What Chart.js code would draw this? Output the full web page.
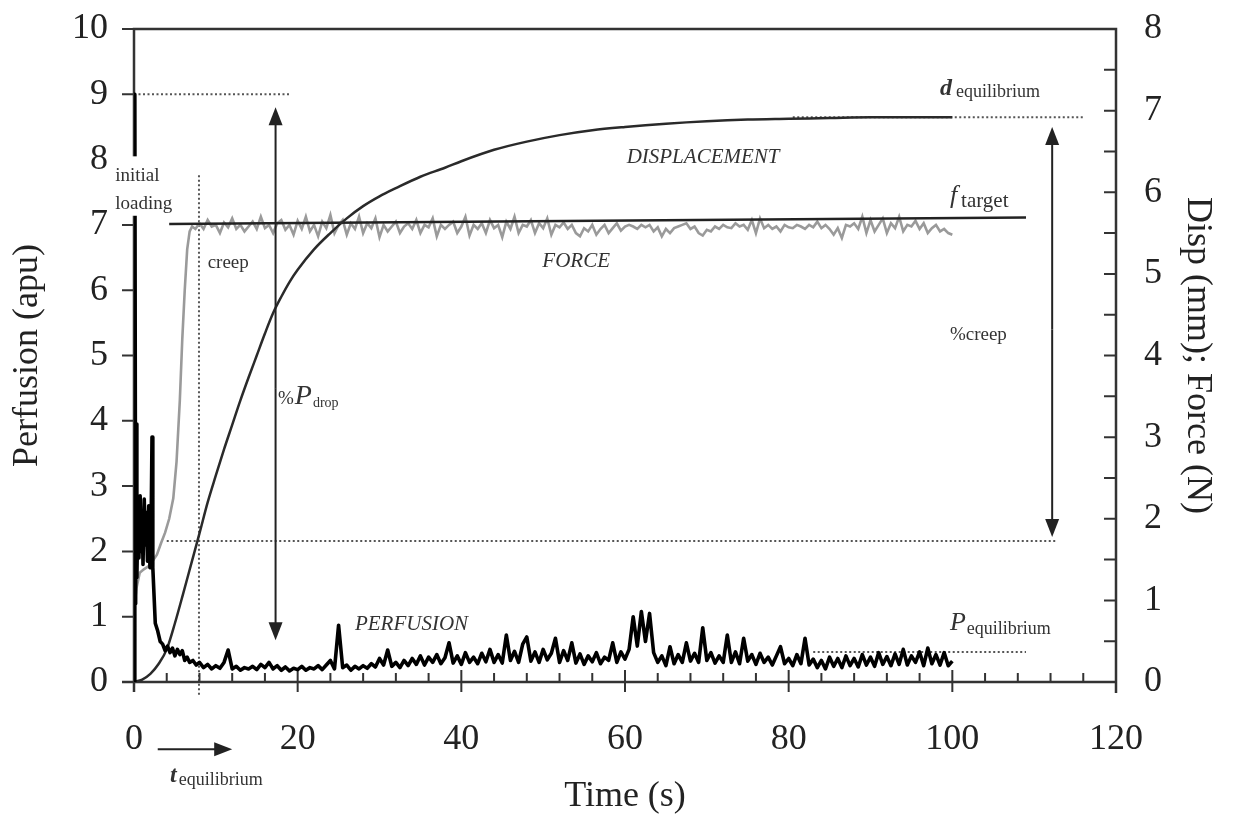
<!DOCTYPE html>
<html>
<head>
<meta charset="utf-8">
<script src="https://cdn.jsdelivr.net/npm/chart.js@4.4.1/dist/chart.umd.min.js"></script>
<style>
html, body { margin: 0; padding: 0; background: #fff; }
#wrap { width: 1234px; height: 821px; }
</style>
</head>
<body>
<div id="wrap"><canvas id="grafico" width="1234" height="821"></canvas></div>
<script>
// Perfusione: fase iniziale (s, apu)
const perfEarlyT = [0, 0.1, 0.2, 0.25, 0.35, 0.5, 0.6, 0.75, 0.9, 1.0, 1.1, 1.25, 1.4, 1.5, 1.65, 1.8, 1.95, 2.1, 2.2, 2.3,
    2.6, 2.9, 3.2, 3.5, 3.8, 4.1, 4.4, 4.7, 5.0, 5.3, 5.6, 5.9, 6.2, 6.5, 6.8, 7.2, 7.6];
const perfEarlyV = [0, 9.0, 1.2, 3.95, 1.6, 2.7, 1.9, 2.85, 2.0, 2.6, 1.8, 2.8, 2.1, 2.6, 1.85, 2.7, 1.75, 2.5, 3.75, 1.75,
    0.9, 0.78, 0.62, 0.58, 0.48, 0.55, 0.45, 0.52, 0.4, 0.5, 0.42, 0.48, 0.33, 0.38, 0.3, 0.33, 0.26];

// Forza: fase di carico (s, N)
const forceEarlyT = [0, 0.3, 0.7, 1.2, 1.8, 2.4, 2.8, 3.3, 3.8, 4.3, 4.8, 5.2, 5.6, 5.9, 6.2, 6.5, 6.8, 7.1, 7.5];
const forceEarlyV = [0.85, 1.15, 1.34, 1.38, 1.42, 1.5, 1.56, 1.7, 1.83, 2.0, 2.25, 2.7, 3.45, 4.2, 4.8, 5.3, 5.52, 5.58, 5.55];

// Griglia temporale comune dopo t = 8 s
const gridT = [
    8, 8.5, 9, 9.5, 10, 10.5, 11, 11.5, 12, 12.5,
    13, 13.5, 14, 14.5, 15, 15.5, 16, 16.5, 17, 17.5,
    18, 18.5, 19, 19.5, 20, 20.5, 21, 21.5, 22, 22.5,
    23, 23.5, 24, 24.5, 25, 25.5, 26, 26.5, 27, 27.5,
    28, 28.5, 29, 29.5, 30, 30.5, 31, 31.5, 32, 32.5,
    33, 33.5, 34, 34.5, 35, 35.5, 36, 36.5, 37, 37.5,
    38, 38.5, 39, 39.5, 40, 40.5, 41, 41.5, 42, 42.5,
    43, 43.5, 44, 44.5, 45, 45.5, 46, 46.5, 47, 47.5,
    48, 48.5, 49, 49.5, 50, 50.5, 51, 51.5, 52, 52.5,
    53, 53.5, 54, 54.5, 55, 55.5, 56, 56.5, 57, 57.5,
    58, 58.5, 59, 59.5, 60, 60.5, 61, 61.5, 62, 62.5,
    63, 63.5, 64, 64.5, 65, 65.5, 66, 66.5, 67, 67.5,
    68, 68.5, 69, 69.5, 70, 70.5, 71, 71.5, 72, 72.5,
    73, 73.5, 74, 74.5, 75, 75.5, 76, 76.5, 77, 77.5,
    78, 78.5, 79, 79.5, 80, 80.5, 81, 81.5, 82, 82.5,
    83, 83.5, 84, 84.5, 85, 85.5, 86, 86.5, 87, 87.5,
    88, 88.5, 89, 89.5, 90, 90.5, 91, 91.5, 92, 92.5,
    93, 93.5, 94, 94.5, 95, 95.5, 96, 96.5, 97, 97.5,
    98, 98.5, 99, 99.5, 100];

const perfV = [
    0.3, 0.22, 0.27, 0.2, 0.25, 0.21, 0.3, 0.49, 0.2, 0.24,
    0.18, 0.22, 0.2, 0.24, 0.19, 0.27, 0.22, 0.3, 0.2, 0.25,
    0.18, 0.23, 0.17, 0.21, 0.19, 0.24, 0.18, 0.22, 0.2, 0.25,
    0.19, 0.26, 0.33, 0.2, 0.87, 0.22, 0.26, 0.18, 0.24, 0.2,
    0.25, 0.21, 0.28, 0.23, 0.36, 0.26, 0.49, 0.24, 0.3, 0.22,
    0.33, 0.25, 0.36, 0.27, 0.4, 0.26, 0.38, 0.3, 0.42, 0.28,
    0.37, 0.6, 0.29, 0.4, 0.27, 0.45, 0.3, 0.38, 0.28, 0.44,
    0.31, 0.5, 0.3, 0.42, 0.29, 0.72, 0.33, 0.47, 0.3, 0.58,
    0.69, 0.32, 0.46, 0.3, 0.5, 0.34, 0.44, 0.67, 0.3, 0.48,
    0.33, 0.6, 0.29, 0.43, 0.27, 0.4, 0.31, 0.45, 0.28, 0.38,
    0.33, 0.6, 0.3, 0.46, 0.35, 0.5, 1.0, 0.55, 1.08, 0.62,
    1.05, 0.45, 0.3, 0.4, 0.25, 0.54, 0.28, 0.42, 0.3, 0.6,
    0.32, 0.44, 0.3, 0.83, 0.33, 0.45, 0.29, 0.4, 0.3, 0.72,
    0.3, 0.46, 0.28, 0.67, 0.32, 0.42, 0.27, 0.44, 0.3, 0.38,
    0.26, 0.4, 0.54, 0.28, 0.36, 0.25, 0.42, 0.28, 0.67, 0.26,
    0.35, 0.22, 0.33, 0.2, 0.38, 0.24, 0.36, 0.22, 0.4, 0.25,
    0.36, 0.23, 0.42, 0.26, 0.38, 0.24, 0.45, 0.27, 0.39, 0.25,
    0.43, 0.27, 0.5, 0.26, 0.4, 0.3, 0.46, 0.25, 0.52, 0.28,
    0.42, 0.26, 0.45, 0.25, 0.32];

const forceV = [
    5.62, 5.55, 5.66, 5.58, 5.6, 5.5, 5.63, 5.57, 5.68, 5.55,
    5.6, 5.52, 5.58, 5.64, 5.55, 5.7, 5.56, 5.6, 5.5, 5.62,
    5.66, 5.54, 5.6, 5.48, 5.65, 5.55, 5.7, 5.52, 5.6, 5.46,
    5.64, 5.56, 5.72, 5.5, 5.6, 5.66, 5.48, 5.62, 5.55, 5.7,
    5.5, 5.62, 5.56, 5.68, 5.45, 5.6, 5.52, 5.58, 5.64, 5.5,
    5.58, 5.62, 5.55, 5.66, 5.5, 5.6, 5.57, 5.68, 5.46, 5.6,
    5.55, 5.6, 5.64, 5.5, 5.58, 5.7, 5.47, 5.6, 5.55, 5.62,
    5.5, 5.66, 5.56, 5.6, 5.45, 5.64, 5.55, 5.7, 5.5, 5.6,
    5.58, 5.66, 5.5, 5.62, 5.56, 5.68, 5.48, 5.6, 5.57, 5.63,
    5.55, 5.6, 5.5, 5.46, 5.56, 5.52, 5.6, 5.48, 5.55, 5.6,
    5.5, 5.56, 5.62, 5.53, 5.58, 5.6, 5.58, 5.55, 5.6, 5.57,
    5.6, 5.52, 5.57, 5.46, 5.55, 5.5, 5.56, 5.58, 5.6, 5.62,
    5.55, 5.58, 5.5, 5.47, 5.54, 5.52, 5.58, 5.55, 5.6, 5.57,
    5.56, 5.62, 5.58, 5.6, 5.54, 5.66, 5.5, 5.68, 5.56, 5.6,
    5.55, 5.58, 5.52, 5.6, 5.57, 5.56, 5.6, 5.58, 5.55, 5.6,
    5.57, 5.64, 5.56, 5.6, 5.55, 5.48, 5.56, 5.44, 5.6, 5.58,
    5.62, 5.55, 5.7, 5.5, 5.66, 5.52, 5.6, 5.68, 5.5, 5.62,
    5.56, 5.7, 5.52, 5.6, 5.58, 5.65, 5.55, 5.62, 5.5, 5.56,
    5.6, 5.52, 5.55, 5.5, 5.48];

// Spostamento (s, mm)
const dispT = [0, 1, 2, 3, 4, 5, 6, 7, 8, 9, 10, 11, 12, 13, 14, 15, 16, 17, 18, 19, 20, 22, 24, 26, 28, 30,
    32, 35, 38, 40, 44, 48, 52, 56, 60, 65, 70, 75, 80, 85, 90, 95, 100];
const dispV = [0, 0.03, 0.1, 0.22, 0.4, 0.72, 1.08, 1.45, 1.82, 2.2, 2.53, 2.85, 3.15, 3.45, 3.73, 4.0, 4.27, 4.52,
    4.72, 4.9, 5.05, 5.3, 5.5, 5.68, 5.83, 5.95, 6.05, 6.19, 6.3, 6.38, 6.52, 6.62, 6.7, 6.76, 6.8, 6.84, 6.87,
    6.89, 6.9, 6.91, 6.92, 6.92, 6.92];

// Forza obiettivo (s, N)
const targetT = [4.3, 109];
const targetV = [5.61, 5.69];

const SERIF = "'Liberation Serif', 'Times New Roman', serif";

function punti(tt, vv) {
    return tt.map((t, i) => ({ x: t, y: vv[i] }));
}

// Linee tratteggiate (in unita' dell'asse sinistro)
const tratteggiH = [[0, 19.1, 9.0], [4.0, 112.6, 2.16], [80.5, 116.2, 8.65], [83, 109, 0.46]];
const tratteggiV = [[7.94, 7.76, -0.2]];

function freccia(ctx, x0, y0, x1, y1) {
    const a = Math.atan2(y1 - y0, x1 - x0);
    const L = 18, W = 7;
    ctx.beginPath();
    ctx.moveTo(x0, y0);
    ctx.lineTo(x1 - L * 0.8 * Math.cos(a), y1 - L * 0.8 * Math.sin(a));
    ctx.stroke();
    ctx.beginPath();
    ctx.moveTo(x1, y1);
    ctx.lineTo(x1 - L * Math.cos(a) + W * Math.sin(a), y1 - L * Math.sin(a) - W * Math.cos(a));
    ctx.lineTo(x1 - L * Math.cos(a) - W * Math.sin(a), y1 - L * Math.sin(a) + W * Math.cos(a));
    ctx.closePath();
    ctx.fill();
}

function scrivi(ctx, x, y, parti) {
    let cx = x;
    parti.forEach(p => {
        ctx.font = p[1];
        ctx.fillText(p[0], cx, y + (p[2] || 0));
        cx += ctx.measureText(p[0]).width + (p[3] || 0);
    });
}

const assi = {
    id: 'assi',
    beforeDatasetsDraw(chart) {
        const { ctx, chartArea: a, scales: { x, y, y1 } } = chart;
        ctx.save();
        // tratteggi
        ctx.strokeStyle = '#555';
        ctx.lineWidth = 2;
        ctx.setLineDash([2, 2.5]);
        tratteggiH.forEach(d => {
            ctx.beginPath();
            ctx.moveTo(x.getPixelForValue(d[0]), y.getPixelForValue(d[2]));
            ctx.lineTo(x.getPixelForValue(d[1]), y.getPixelForValue(d[2]));
            ctx.stroke();
        });
        tratteggiV.forEach(d => {
            ctx.beginPath();
            ctx.moveTo(x.getPixelForValue(d[0]), y.getPixelForValue(d[1]));
            ctx.lineTo(x.getPixelForValue(d[0]), y.getPixelForValue(d[2]));
            ctx.stroke();
        });
        ctx.setLineDash([]);

        // cornice
        ctx.strokeStyle = '#333';
        ctx.lineWidth = 2.5;
        ctx.beginPath();
        ctx.moveTo(a.left, a.bottom + 10);
        ctx.lineTo(a.left, a.top);
        ctx.lineTo(a.right, a.top);
        ctx.lineTo(a.right, a.bottom + 11);
        ctx.moveTo(a.left - 12, a.bottom);
        ctx.lineTo(a.right, a.bottom);
        ctx.stroke();

        ctx.lineWidth = 2;
        ctx.beginPath();
        for (let v = 0; v <= 10; v++) {
            const p = y.getPixelForValue(v);
            ctx.moveTo(a.left - 12, p);
            ctx.lineTo(a.left, p);
        }
        for (let v = 0; v <= 8; v += 0.5) {
            const p = y1.getPixelForValue(v);
            ctx.moveTo(a.right - 12, p);
            ctx.lineTo(a.right, p);
        }
        for (let t = 0; t <= 120; t += 4) {
            const p = x.getPixelForValue(t);
            if (t % 20 === 0) {
                ctx.moveTo(p, a.bottom - 12);
                ctx.lineTo(p, a.bottom + 10);
            } else {
                ctx.moveTo(p, a.bottom - 9);
                ctx.lineTo(p, a.bottom);
            }
        }
        ctx.stroke();
        ctx.restore();
    },
    afterDraw(chart) {
        const { ctx, scales: { x, y } } = chart;
        const X = v => x.getPixelForValue(v), Y = v => y.getPixelForValue(v);
        ctx.save();
        ctx.strokeStyle = '#222';
        ctx.fillStyle = '#222';
        ctx.lineWidth = 2;
        // frecce
        freccia(ctx, X(17.3), Y(4.5), X(17.3), Y(8.8));
        freccia(ctx, X(17.3), Y(4.5), X(17.3), Y(0.64));
        freccia(ctx, X(112.2), Y(5.4), X(112.2), Y(8.5));
        freccia(ctx, X(112.2), Y(5.4), X(112.2), Y(2.22));
        freccia(ctx, X(2.9), Y(-1.03), X(12.0), Y(-1.03));

        // etichetta "initial loading" su fondo bianco
        ctx.fillStyle = '#fff';
        ctx.fillRect(X(-2.7), Y(8.05), X(5.4) - X(-2.7), Y(7.14) - Y(8.05));

        ctx.fillStyle = '#333';
        ctx.textBaseline = 'alphabetic';
        ctx.textAlign = 'left';
        const small = '19px ' + SERIF;
        scrivi(ctx, X(-2.3), Y(7.67), [['initial', small]]);
        scrivi(ctx, X(-2.3), Y(7.24), [['loading', small]]);
        scrivi(ctx, X(9.0), Y(6.34), [['creep', small]]);
        scrivi(ctx, X(17.6), Y(4.26), [['%', '19px ' + SERIF, 0, 1], ['P', 'italic 28px ' + SERIF, 0, 1], ['drop', '14px ' + SERIF, 3]]);
        scrivi(ctx, X(60.2), Y(7.95), [['DISPLACEMENT', 'italic 21px ' + SERIF]]);
        scrivi(ctx, X(49.9), Y(6.36), [['FORCE', 'italic 21px ' + SERIF]]);
        scrivi(ctx, X(27.0), Y(0.8), [['PERFUSION', 'italic 21px ' + SERIF]]);
        scrivi(ctx, X(98.5), Y(8.99), [['d', 'italic bold 24px ' + SERIF, 0, 4], ['equilibrium', '18px ' + SERIF, 2]]);
        scrivi(ctx, X(99.7), Y(7.34), [['f', 'italic 26px ' + SERIF, 0, 4], ['target', '21px ' + SERIF, 4]]);
        scrivi(ctx, X(99.7), Y(5.24), [['%creep', '19px ' + SERIF]]);
        scrivi(ctx, X(99.7), Y(0.8), [['P', 'italic 26px ' + SERIF, 0, 1], ['equilibrium', '18px ' + SERIF, 4]]);
        scrivi(ctx, X(4.4), Y(-1.53), [['t', 'italic bold 24px ' + SERIF, 0, 2], ['equilibrium', '18px ' + SERIF, 3]]);
        ctx.restore();
    }
};

const tickFont = { family: SERIF, size: 36 };

new Chart(document.getElementById('grafico').getContext('2d'), {
    type: 'line',
    data: {
        datasets: [
            {
                label: 'Perfusion',
                data: punti(perfEarlyT.concat(gridT), perfEarlyV.concat(perfV)),
                yAxisID: 'y',
                borderColor: '#000',
                borderWidth: 3.6,
                borderJoinStyle: 'round'
            },
            {
                label: 'Displacement',
                data: punti(dispT, dispV),
                yAxisID: 'y1',
                borderColor: '#2a2a2a',
                borderWidth: 2.5,
                cubicInterpolationMode: 'monotone'
            },
            {
                label: 'f target',
                data: punti(targetT, targetV),
                yAxisID: 'y1',
                borderColor: '#222',
                borderWidth: 2.5
            },
            {
                label: 'Force',
                data: punti(forceEarlyT.concat(gridT), forceEarlyV.concat(forceV)),
                yAxisID: 'y1',
                borderColor: '#9a9a9a',
                borderWidth: 2.6
            }
        ]
    },
    options: {
        responsive: false,
        devicePixelRatio: 1,
        animation: false,
        events: [],
        layout: { padding: { top: 29, left: 0, right: 0, bottom: 0 } },
        elements: { point: { radius: 0 }, line: { tension: 0, fill: false } },
        plugins: { legend: { display: false }, tooltip: { enabled: false } },
        scales: {
            x: {
                type: 'linear',
                position: 'bottom',
                min: 0, max: 120,
                grid: { display: false },
                border: { display: false },
                ticks: { stepSize: 20, font: tickFont, color: '#222', padding: 28, maxRotation: 0 },
                title: { display: true, text: 'Time (s)', font: tickFont, color: '#222', padding: { top: 0, bottom: 3 } },
                afterFit: s => { s.height = 139; s.paddingLeft = 0; s.paddingRight = 0; }
            },
            y: {
                position: 'left',
                min: 0, max: 10,
                grid: { display: false },
                border: { display: false },
                ticks: { stepSize: 1, font: tickFont, color: '#222', padding: 18 },
                title: { display: true, text: 'Perfusion (apu)', font: tickFont, color: '#222', padding: { top: 6, bottom: 0 } },
                afterFit: s => { s.width = 134; s.paddingTop = 0; s.paddingBottom = 0; }
            },
            y1: {
                position: 'right',
                min: 0, max: 8,
                grid: { display: false },
                border: { display: false },
                ticks: { stepSize: 1, font: tickFont, color: '#222', padding: 20 },
                title: { display: true, text: 'Disp (mm); Force (N)', font: tickFont, color: '#222', padding: { top: 15, bottom: 0 } },
                afterFit: s => { s.width = 118; s.paddingTop = 0; s.paddingBottom = 0; }
            }
        }
    },
    plugins: [assi]
});
</script>
</body>
</html>
